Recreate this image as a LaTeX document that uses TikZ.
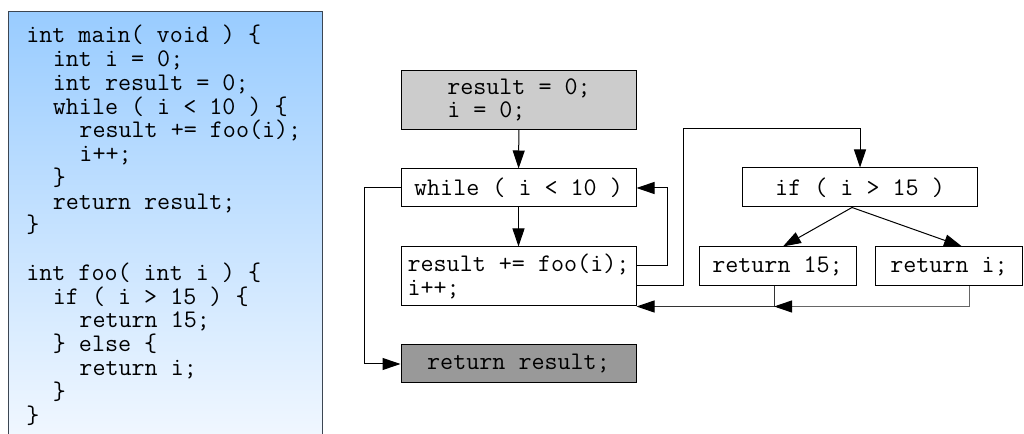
\documentclass[tikz,border=0pt]{standalone}
\usetikzlibrary{arrows.meta,calc}

\definecolor{panelTop}{RGB}{153,204,255}
\definecolor{panelBottom}{RGB}{242,248,255}
\definecolor{panelEdge}{RGB}{60,70,82}
\definecolor{initFill}{RGB}{204,204,204}
\definecolor{retFill}{RGB}{153,153,153}

\begin{document}
\begin{tikzpicture}[x=0.75pt,y=-0.75pt,
  every node/.style={font=\ttfamily\fontsize{19pt}{17.4pt}\selectfont},
  code/.style={anchor=base west,inner sep=0pt},
  block/.style={draw=black,line width=0.75pt,minimum width=176.25pt,align=left,inner sep=2pt},
  tip/.style={-{Triangle[length=13.5pt,width=9pt,color=black]}},
  flow/.style={line width=0.75pt,tip},
]
\useasboundingbox (0,0) rectangle (1024,434);

% source listing panel
\shade[top color=panelTop,bottom color=panelBottom,draw=panelEdge,line width=0.9pt]
  (8.3,11.7) rectangle (322.3,445);

\node[code] (c1)  at (26.0, 43.0) {int main( void ) \{};
\node[code] (c2)  at (52.6, 66.8) {int i = 0;};
\node[code] (c3)  at (52.6, 90.5) {int result = 0;};
\node[code] (c4)  at (52.6,114.3) {while ( i < 10 ) \{};
\node[code] (c5)  at (79.2,138.0) {result += foo(i);};
\node[code] (c6)  at (79.2,161.8) {i++;};
\node[code] (c7)  at (52.6,185.5) {\}};
\node[code] (c8)  at (52.6,209.3) {return result;};
\node[code] (c9)  at (26.0,233.0) {\}};
\node[code] (c10) at (26.0,280.5) {int foo( int i ) \{};
\node[code] (c11) at (52.6,304.3) {if ( i > 15 ) \{};
\node[code] (c12) at (79.2,328.0) {return 15;};
\node[code] (c13) at (52.6,351.8) {\} else \{};
\node[code] (c14) at (79.2,375.5) {return i;};
\node[code] (c15) at (52.6,399.3) {\}};
\node[code] (c16) at (26.0,423.0) {\}};

% control flow graph
\node[block,fill=initFill,minimum height=44pt] (init) at (519,100) {result = 0;\\i = 0;};
\node[block,minimum height=28.5pt] (while) at (518.5,188) {while ( i < 10 )};
\node[block,minimum height=44.25pt] (body) at (518.5,276.5) {result += foo(i);\\i++;};
\node[block,fill=retFill,minimum height=28.5pt] (ret) at (518.5,364) {return result;};
\node[block,minimum height=29.25pt] (if) at (860,187.5) {if ( i > 15 )};
\node[block,minimum height=29.25pt,minimum width=117.75pt] (r15) at (777.5,266.5) {return 15;};
\node[block,minimum height=29.25pt,minimum width=110.25pt] (ri) at (949,266.5) {return i;};

\draw[flow] (init) -- (while);
\draw[flow] (while) -- (body);
\draw[flow] (while.west) -- ++(-36,0) |- (ret.west);
\draw[flow] ([yshift=7.9pt]body.east) -- ++(31,0) |- (while.east);
\draw[flow] ([yshift=-7.1pt]body.east) -- ++(47,0) -- ++(0,-157) -| (if.north);
\draw[flow] ([xshift=-6pt]if.south) -- ([xshift=4.1pt]r15.north);
\draw[flow] ([xshift=-6pt]if.south) -- ([xshift=9.75pt]ri.north);
\coordinate (join) at ([xshift=-2.6pt]r15.south |- body.south east);
\draw[flow,draw=black!80] ([xshift=-2.6pt]r15.south) |- (body.south east);
\draw[flow,draw=black!60] ([xshift=15pt]ri.south) |- (join);
\end{tikzpicture}
\end{document}
